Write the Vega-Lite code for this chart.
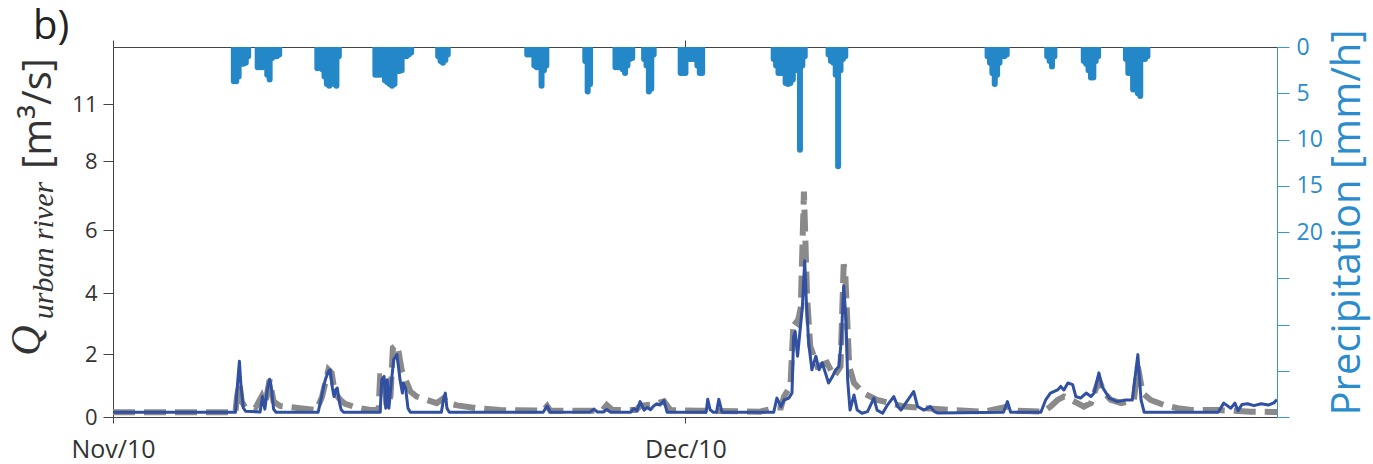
{
  "$schema": "https://vega.github.io/schema/vega-lite/v6.json",
  "width": 1164,
  "height": 370,
  "autosize": "none",
  "padding": {"left": 113, "top": 47, "right": 96, "bottom": 47},
  "background": "white",
  "title": {"text": "b)", "anchor": "start", "frame": "group", "fontSize": 40, "fontWeight": "normal", "font": "Open Sans", "color": "#222", "dx": -80, "dy": 50, "baseline": "alphabetic", "offset": 0},
  "config": {
    "view": {"stroke": null},
    "axis": {"grid": false, "labelFont": "Open Sans", "titleFont": "Open Sans", "titleFontWeight": "normal"}
  },
  "datasets": {
    "obs": [
      {"time": "2010-11-01T00:00", "Q": 0.15},
      {"time": "2010-11-07T10:00", "Q": 0.15},
      {"time": "2010-11-07T12:00", "Q": 0.65},
      {"time": "2010-11-07T15:00", "Q": 1.08},
      {"time": "2010-11-07T18:00", "Q": 0.49},
      {"time": "2010-11-07T22:00", "Q": 0.31},
      {"time": "2010-11-08T11:00", "Q": 0.28},
      {"time": "2010-11-08T19:00", "Q": 0.65},
      {"time": "2010-11-08T23:00", "Q": 0.35},
      {"time": "2010-11-09T05:00", "Q": 1.18},
      {"time": "2010-11-09T10:00", "Q": 0.49},
      {"time": "2010-11-09T18:00", "Q": 0.35},
      {"time": "2010-11-10T19:00", "Q": 0.28},
      {"time": "2010-11-11T16:00", "Q": 0.22},
      {"time": "2010-11-11T23:00", "Q": 0.65},
      {"time": "2010-11-12T03:00", "Q": 1.08},
      {"time": "2010-11-12T07:00", "Q": 1.5},
      {"time": "2010-11-12T11:00", "Q": 1.4},
      {"time": "2010-11-12T15:00", "Q": 0.76},
      {"time": "2010-11-12T22:00", "Q": 0.54},
      {"time": "2010-11-13T04:00", "Q": 0.42},
      {"time": "2010-11-13T17:00", "Q": 0.31},
      {"time": "2010-11-14T12:00", "Q": 0.22},
      {"time": "2010-11-14T22:00", "Q": 0.22},
      {"time": "2010-11-15T00:00", "Q": 1.29},
      {"time": "2010-11-15T05:00", "Q": 1.29},
      {"time": "2010-11-15T08:00", "Q": 0.35},
      {"time": "2010-11-15T13:00", "Q": 0.65},
      {"time": "2010-11-15T16:00", "Q": 2.2},
      {"time": "2010-11-15T21:00", "Q": 2.3},
      {"time": "2010-11-15T23:00", "Q": 2.1},
      {"time": "2010-11-16T03:00", "Q": 1.5},
      {"time": "2010-11-16T08:00", "Q": 1.18},
      {"time": "2010-11-16T14:00", "Q": 0.81},
      {"time": "2010-11-16T22:00", "Q": 0.65},
      {"time": "2010-11-17T11:00", "Q": 0.54},
      {"time": "2010-11-17T23:00", "Q": 0.44},
      {"time": "2010-11-18T08:00", "Q": 0.6},
      {"time": "2010-11-18T12:00", "Q": 0.44},
      {"time": "2010-11-19T01:00", "Q": 0.37},
      {"time": "2010-11-20T02:00", "Q": 0.28},
      {"time": "2010-11-21T07:00", "Q": 0.22},
      {"time": "2010-11-23T13:00", "Q": 0.2},
      {"time": "2010-11-23T18:00", "Q": 0.35},
      {"time": "2010-11-23T22:00", "Q": 0.2},
      {"time": "2010-11-26T15:00", "Q": 0.2},
      {"time": "2010-11-26T21:00", "Q": 0.38},
      {"time": "2010-11-27T04:00", "Q": 0.22},
      {"time": "2010-11-28T10:00", "Q": 0.22},
      {"time": "2010-11-28T15:00", "Q": 0.35},
      {"time": "2010-11-29T08:00", "Q": 0.4},
      {"time": "2010-11-29T21:00", "Q": 0.5},
      {"time": "2010-11-30T05:00", "Q": 0.22},
      {"time": "2010-12-01T19:00", "Q": 0.2},
      {"time": "2010-12-04T22:00", "Q": 0.17},
      {"time": "2010-12-05T19:00", "Q": 0.3},
      {"time": "2010-12-06T00:00", "Q": 0.3},
      {"time": "2010-12-06T04:00", "Q": 0.65},
      {"time": "2010-12-06T12:00", "Q": 0.97},
      {"time": "2010-12-06T16:00", "Q": 3.1},
      {"time": "2010-12-06T21:00", "Q": 3.0},
      {"time": "2010-12-07T01:00", "Q": 3.52},
      {"time": "2010-12-07T05:00", "Q": 7.11},
      {"time": "2010-12-07T09:00", "Q": 3.85},
      {"time": "2010-12-07T13:00", "Q": 2.25},
      {"time": "2010-12-07T22:00", "Q": 1.6},
      {"time": "2010-12-08T10:00", "Q": 1.72},
      {"time": "2010-12-08T19:00", "Q": 1.29},
      {"time": "2010-12-09T03:00", "Q": 1.6},
      {"time": "2010-12-09T07:00", "Q": 4.91},
      {"time": "2010-12-09T09:00", "Q": 4.6},
      {"time": "2010-12-09T14:00", "Q": 1.6},
      {"time": "2010-12-09T20:00", "Q": 1.08},
      {"time": "2010-12-10T08:00", "Q": 0.76},
      {"time": "2010-12-11T01:00", "Q": 0.54},
      {"time": "2010-12-11T18:00", "Q": 0.44},
      {"time": "2010-12-12T11:00", "Q": 0.33},
      {"time": "2010-12-13T12:00", "Q": 0.28},
      {"time": "2010-12-14T22:00", "Q": 0.22},
      {"time": "2010-12-16T16:00", "Q": 0.17},
      {"time": "2010-12-17T21:00", "Q": 0.33},
      {"time": "2010-12-18T10:00", "Q": 0.2},
      {"time": "2010-12-19T19:00", "Q": 0.17},
      {"time": "2010-12-20T03:00", "Q": 0.33},
      {"time": "2010-12-20T12:00", "Q": 0.54},
      {"time": "2010-12-20T20:00", "Q": 0.65},
      {"time": "2010-12-21T05:00", "Q": 0.54},
      {"time": "2010-12-21T13:00", "Q": 0.44},
      {"time": "2010-12-21T21:00", "Q": 0.33},
      {"time": "2010-12-22T06:00", "Q": 0.44},
      {"time": "2010-12-22T16:00", "Q": 1.18},
      {"time": "2010-12-22T23:00", "Q": 0.76},
      {"time": "2010-12-23T07:00", "Q": 0.54},
      {"time": "2010-12-23T20:00", "Q": 0.44},
      {"time": "2010-12-24T12:00", "Q": 0.54},
      {"time": "2010-12-24T17:00", "Q": 1.6},
      {"time": "2010-12-24T23:00", "Q": 0.76},
      {"time": "2010-12-25T09:00", "Q": 0.54},
      {"time": "2010-12-26T02:00", "Q": 0.38},
      {"time": "2010-12-26T19:00", "Q": 0.28},
      {"time": "2010-12-27T12:00", "Q": 0.22},
      {"time": "2010-12-28T22:00", "Q": 0.22},
      {"time": "2010-12-30T15:00", "Q": 0.17},
      {"time": "2011-01-01T00:00", "Q": 0.16}
    ],
    "sim": [
      {"time": "2010-11-01T00:00", "Q": 0.15},
      {"time": "2010-11-07T10:00", "Q": 0.15},
      {"time": "2010-11-07T12:00", "Q": 0.86},
      {"time": "2010-11-07T15:00", "Q": 1.77},
      {"time": "2010-11-07T17:00", "Q": 0.97},
      {"time": "2010-11-07T20:00", "Q": 0.28},
      {"time": "2010-11-07T23:00", "Q": 0.18},
      {"time": "2010-11-08T17:00", "Q": 0.16},
      {"time": "2010-11-08T20:00", "Q": 0.65},
      {"time": "2010-11-08T23:00", "Q": 0.25},
      {"time": "2010-11-09T02:00", "Q": 0.86},
      {"time": "2010-11-09T05:00", "Q": 1.2},
      {"time": "2010-11-09T07:00", "Q": 0.97},
      {"time": "2010-11-09T10:00", "Q": 0.25},
      {"time": "2010-11-09T13:00", "Q": 0.15},
      {"time": "2010-11-11T18:00", "Q": 0.15},
      {"time": "2010-11-11T21:00", "Q": 0.49},
      {"time": "2010-11-12T01:00", "Q": 0.97},
      {"time": "2010-11-12T03:00", "Q": 1.18},
      {"time": "2010-11-12T07:00", "Q": 1.45},
      {"time": "2010-11-12T09:00", "Q": 1.5},
      {"time": "2010-11-12T12:00", "Q": 0.92},
      {"time": "2010-11-12T14:00", "Q": 0.65},
      {"time": "2010-11-12T16:00", "Q": 0.86},
      {"time": "2010-11-12T18:00", "Q": 0.92},
      {"time": "2010-11-12T21:00", "Q": 0.44},
      {"time": "2010-11-12T23:00", "Q": 0.23},
      {"time": "2010-11-13T02:00", "Q": 0.15},
      {"time": "2010-11-15T00:00", "Q": 0.15},
      {"time": "2010-11-15T02:00", "Q": 1.18},
      {"time": "2010-11-15T05:00", "Q": 1.29},
      {"time": "2010-11-15T07:00", "Q": 0.28},
      {"time": "2010-11-15T09:00", "Q": 1.18},
      {"time": "2010-11-15T11:00", "Q": 0.28},
      {"time": "2010-11-15T14:00", "Q": 1.08},
      {"time": "2010-11-15T17:00", "Q": 1.82},
      {"time": "2010-11-15T21:00", "Q": 1.98},
      {"time": "2010-11-15T23:00", "Q": 1.6},
      {"time": "2010-11-16T01:00", "Q": 1.18},
      {"time": "2010-11-16T04:00", "Q": 0.76},
      {"time": "2010-11-16T05:00", "Q": 1.08},
      {"time": "2010-11-16T08:00", "Q": 0.92},
      {"time": "2010-11-16T11:00", "Q": 0.28},
      {"time": "2010-11-16T14:00", "Q": 0.15},
      {"time": "2010-11-18T05:00", "Q": 0.15},
      {"time": "2010-11-18T08:00", "Q": 0.6},
      {"time": "2010-11-18T10:00", "Q": 0.76},
      {"time": "2010-11-18T12:00", "Q": 0.28},
      {"time": "2010-11-18T15:00", "Q": 0.15},
      {"time": "2010-11-23T13:00", "Q": 0.15},
      {"time": "2010-11-23T18:00", "Q": 0.35},
      {"time": "2010-11-23T22:00", "Q": 0.15},
      {"time": "2010-11-26T00:00", "Q": 0.16},
      {"time": "2010-11-26T05:00", "Q": 0.25},
      {"time": "2010-11-26T09:00", "Q": 0.16},
      {"time": "2010-11-26T17:00", "Q": 0.16},
      {"time": "2010-11-26T21:00", "Q": 0.24},
      {"time": "2010-11-27T02:00", "Q": 0.15},
      {"time": "2010-11-28T03:00", "Q": 0.15},
      {"time": "2010-11-28T07:00", "Q": 0.27},
      {"time": "2010-11-28T11:00", "Q": 0.2},
      {"time": "2010-11-28T15:00", "Q": 0.49},
      {"time": "2010-11-28T20:00", "Q": 0.22},
      {"time": "2010-11-29T00:00", "Q": 0.3},
      {"time": "2010-11-29T04:00", "Q": 0.23},
      {"time": "2010-11-29T08:00", "Q": 0.35},
      {"time": "2010-11-29T12:00", "Q": 0.42},
      {"time": "2010-11-29T16:00", "Q": 0.38},
      {"time": "2010-11-29T21:00", "Q": 0.52},
      {"time": "2010-11-30T01:00", "Q": 0.15},
      {"time": "2010-12-02T02:00", "Q": 0.15},
      {"time": "2010-12-02T04:00", "Q": 0.56},
      {"time": "2010-12-02T07:00", "Q": 0.23},
      {"time": "2010-12-02T11:00", "Q": 0.15},
      {"time": "2010-12-02T15:00", "Q": 0.15},
      {"time": "2010-12-02T18:00", "Q": 0.56},
      {"time": "2010-12-02T22:00", "Q": 0.15},
      {"time": "2010-12-05T15:00", "Q": 0.15},
      {"time": "2010-12-05T19:00", "Q": 0.6},
      {"time": "2010-12-06T00:00", "Q": 0.33},
      {"time": "2010-12-06T04:00", "Q": 0.54},
      {"time": "2010-12-06T10:00", "Q": 0.6},
      {"time": "2010-12-06T14:00", "Q": 0.76},
      {"time": "2010-12-06T16:00", "Q": 2.57},
      {"time": "2010-12-06T18:00", "Q": 2.73},
      {"time": "2010-12-06T21:00", "Q": 1.93},
      {"time": "2010-12-07T00:00", "Q": 2.73},
      {"time": "2010-12-07T03:00", "Q": 3.52},
      {"time": "2010-12-07T06:00", "Q": 5.02},
      {"time": "2010-12-07T08:00", "Q": 3.74},
      {"time": "2010-12-07T11:00", "Q": 2.36},
      {"time": "2010-12-07T15:00", "Q": 1.5},
      {"time": "2010-12-07T20:00", "Q": 1.93},
      {"time": "2010-12-08T00:00", "Q": 1.5},
      {"time": "2010-12-08T04:00", "Q": 1.72},
      {"time": "2010-12-08T08:00", "Q": 1.4},
      {"time": "2010-12-08T12:00", "Q": 1.08},
      {"time": "2010-12-08T17:00", "Q": 1.29},
      {"time": "2010-12-08T21:00", "Q": 1.5},
      {"time": "2010-12-09T01:00", "Q": 1.6},
      {"time": "2010-12-09T04:00", "Q": 2.46},
      {"time": "2010-12-09T07:00", "Q": 4.22},
      {"time": "2010-12-09T10:00", "Q": 3.1},
      {"time": "2010-12-09T12:00", "Q": 1.18},
      {"time": "2010-12-09T15:00", "Q": 0.22},
      {"time": "2010-12-09T20:00", "Q": 0.7},
      {"time": "2010-12-10T00:00", "Q": 0.22},
      {"time": "2010-12-10T06:00", "Q": 0.12},
      {"time": "2010-12-10T13:00", "Q": 0.17},
      {"time": "2010-12-10T21:00", "Q": 0.6},
      {"time": "2010-12-11T01:00", "Q": 0.22},
      {"time": "2010-12-11T08:00", "Q": 0.12},
      {"time": "2010-12-11T14:00", "Q": 0.38},
      {"time": "2010-12-11T22:00", "Q": 0.65},
      {"time": "2010-12-12T03:00", "Q": 0.33},
      {"time": "2010-12-12T07:00", "Q": 0.22},
      {"time": "2010-12-12T13:00", "Q": 0.44},
      {"time": "2010-12-12T23:00", "Q": 0.81},
      {"time": "2010-12-13T04:00", "Q": 0.33},
      {"time": "2010-12-13T12:00", "Q": 0.22},
      {"time": "2010-12-13T20:00", "Q": 0.33},
      {"time": "2010-12-14T01:00", "Q": 0.17},
      {"time": "2010-12-14T05:00", "Q": 0.13},
      {"time": "2010-12-17T16:00", "Q": 0.15},
      {"time": "2010-12-17T21:00", "Q": 0.49},
      {"time": "2010-12-18T01:00", "Q": 0.15},
      {"time": "2010-12-19T15:00", "Q": 0.15},
      {"time": "2010-12-19T21:00", "Q": 0.54},
      {"time": "2010-12-20T03:00", "Q": 0.76},
      {"time": "2010-12-20T12:00", "Q": 0.86},
      {"time": "2010-12-20T16:00", "Q": 0.97},
      {"time": "2010-12-20T20:00", "Q": 0.86},
      {"time": "2010-12-21T01:00", "Q": 1.08},
      {"time": "2010-12-21T07:00", "Q": 1.03},
      {"time": "2010-12-21T11:00", "Q": 0.65},
      {"time": "2010-12-21T17:00", "Q": 0.6},
      {"time": "2010-12-22T00:00", "Q": 0.76},
      {"time": "2010-12-22T06:00", "Q": 0.65},
      {"time": "2010-12-22T10:00", "Q": 0.76},
      {"time": "2010-12-22T16:00", "Q": 1.4},
      {"time": "2010-12-22T20:00", "Q": 0.97},
      {"time": "2010-12-23T05:00", "Q": 0.6},
      {"time": "2010-12-23T15:00", "Q": 0.49},
      {"time": "2010-12-24T02:00", "Q": 0.54},
      {"time": "2010-12-24T10:00", "Q": 0.54},
      {"time": "2010-12-24T17:00", "Q": 1.98},
      {"time": "2010-12-24T21:00", "Q": 0.54},
      {"time": "2010-12-25T01:00", "Q": 0.15},
      {"time": "2010-12-28T22:00", "Q": 0.15},
      {"time": "2010-12-29T05:00", "Q": 0.44},
      {"time": "2010-12-29T14:00", "Q": 0.28},
      {"time": "2010-12-29T19:00", "Q": 0.44},
      {"time": "2010-12-29T23:00", "Q": 0.2},
      {"time": "2010-12-30T04:00", "Q": 0.4},
      {"time": "2010-12-30T11:00", "Q": 0.42},
      {"time": "2010-12-30T19:00", "Q": 0.36},
      {"time": "2010-12-31T04:00", "Q": 0.42},
      {"time": "2010-12-31T13:00", "Q": 0.38},
      {"time": "2010-12-31T20:00", "Q": 0.45},
      {"time": "2011-01-01T00:00", "Q": 0.55}
    ],
    "precip": [
      {"time": "2010-11-07T08:00", "P": 3.7},
      {"time": "2010-11-07T11:00", "P": 3.7},
      {"time": "2010-11-07T14:00", "P": 3.2},
      {"time": "2010-11-07T17:00", "P": 1.8},
      {"time": "2010-11-07T20:00", "P": 1.8},
      {"time": "2010-11-07T23:00", "P": 1.7},
      {"time": "2010-11-08T02:00", "P": 1.0},
      {"time": "2010-11-08T14:00", "P": 2.2},
      {"time": "2010-11-08T17:00", "P": 2.2},
      {"time": "2010-11-08T20:00", "P": 2.2},
      {"time": "2010-11-08T23:00", "P": 2.0},
      {"time": "2010-11-09T02:00", "P": 3.0},
      {"time": "2010-11-09T05:00", "P": 3.5},
      {"time": "2010-11-09T08:00", "P": 1.2},
      {"time": "2010-11-09T11:00", "P": 1.0},
      {"time": "2010-11-09T14:00", "P": 1.0},
      {"time": "2010-11-09T17:00", "P": 0.8},
      {"time": "2010-11-11T17:00", "P": 2.3},
      {"time": "2010-11-11T20:00", "P": 2.2},
      {"time": "2010-11-11T23:00", "P": 2.4},
      {"time": "2010-11-12T02:00", "P": 3.2},
      {"time": "2010-11-12T05:00", "P": 4.0},
      {"time": "2010-11-12T08:00", "P": 4.2},
      {"time": "2010-11-12T11:00", "P": 3.8},
      {"time": "2010-11-12T14:00", "P": 4.0},
      {"time": "2010-11-12T17:00", "P": 4.2},
      {"time": "2010-11-12T20:00", "P": 1.0},
      {"time": "2010-11-14T18:00", "P": 3.0},
      {"time": "2010-11-14T21:00", "P": 3.0},
      {"time": "2010-11-15T00:00", "P": 3.0},
      {"time": "2010-11-15T03:00", "P": 2.8},
      {"time": "2010-11-15T06:00", "P": 3.6},
      {"time": "2010-11-15T09:00", "P": 3.8},
      {"time": "2010-11-15T12:00", "P": 4.0},
      {"time": "2010-11-15T15:00", "P": 4.2},
      {"time": "2010-11-15T18:00", "P": 4.0},
      {"time": "2010-11-15T21:00", "P": 2.6},
      {"time": "2010-11-16T00:00", "P": 2.6},
      {"time": "2010-11-16T03:00", "P": 2.5},
      {"time": "2010-11-16T06:00", "P": 1.0},
      {"time": "2010-11-16T09:00", "P": 1.0},
      {"time": "2010-11-16T12:00", "P": 0.8},
      {"time": "2010-11-16T15:00", "P": 0.6},
      {"time": "2010-11-18T01:00", "P": 1.0},
      {"time": "2010-11-18T04:00", "P": 1.5},
      {"time": "2010-11-18T07:00", "P": 1.7},
      {"time": "2010-11-18T10:00", "P": 1.4},
      {"time": "2010-11-18T13:00", "P": 0.8},
      {"time": "2010-11-22T17:00", "P": 0.8},
      {"time": "2010-11-22T20:00", "P": 0.8},
      {"time": "2010-11-22T23:00", "P": 0.8},
      {"time": "2010-11-23T02:00", "P": 2.0},
      {"time": "2010-11-23T05:00", "P": 2.2},
      {"time": "2010-11-23T08:00", "P": 2.2},
      {"time": "2010-11-23T11:00", "P": 4.2},
      {"time": "2010-11-23T14:00", "P": 2.5},
      {"time": "2010-11-23T17:00", "P": 2.0},
      {"time": "2010-11-25T18:00", "P": 1.5},
      {"time": "2010-11-25T21:00", "P": 4.8},
      {"time": "2010-11-26T00:00", "P": 4.0},
      {"time": "2010-11-27T08:00", "P": 2.2},
      {"time": "2010-11-27T11:00", "P": 2.2},
      {"time": "2010-11-27T14:00", "P": 2.2},
      {"time": "2010-11-27T17:00", "P": 2.4},
      {"time": "2010-11-27T20:00", "P": 2.8},
      {"time": "2010-11-27T23:00", "P": 2.0},
      {"time": "2010-11-28T02:00", "P": 1.3},
      {"time": "2010-11-28T05:00", "P": 1.2},
      {"time": "2010-11-28T20:00", "P": 1.3},
      {"time": "2010-11-28T23:00", "P": 2.0},
      {"time": "2010-11-29T02:00", "P": 4.8},
      {"time": "2010-11-29T05:00", "P": 4.5},
      {"time": "2010-11-29T08:00", "P": 0.8},
      {"time": "2010-11-30T18:00", "P": 2.8},
      {"time": "2010-11-30T21:00", "P": 2.8},
      {"time": "2010-12-01T00:00", "P": 2.8},
      {"time": "2010-12-01T03:00", "P": 1.3},
      {"time": "2010-12-01T06:00", "P": 1.3},
      {"time": "2010-12-01T09:00", "P": 1.3},
      {"time": "2010-12-01T12:00", "P": 1.3},
      {"time": "2010-12-01T15:00", "P": 2.0},
      {"time": "2010-12-01T18:00", "P": 2.8},
      {"time": "2010-12-01T21:00", "P": 2.8},
      {"time": "2010-12-05T15:00", "P": 1.3},
      {"time": "2010-12-05T18:00", "P": 2.0},
      {"time": "2010-12-05T21:00", "P": 2.8},
      {"time": "2010-12-06T00:00", "P": 2.8},
      {"time": "2010-12-06T03:00", "P": 2.8},
      {"time": "2010-12-06T06:00", "P": 3.9},
      {"time": "2010-12-06T09:00", "P": 4.0},
      {"time": "2010-12-06T12:00", "P": 3.9},
      {"time": "2010-12-06T15:00", "P": 3.5},
      {"time": "2010-12-06T18:00", "P": 2.5},
      {"time": "2010-12-06T21:00", "P": 2.0},
      {"time": "2010-12-07T00:00", "P": 11.1},
      {"time": "2010-12-07T03:00", "P": 2.0},
      {"time": "2010-12-07T06:00", "P": 1.0},
      {"time": "2010-12-08T12:00", "P": 0.8},
      {"time": "2010-12-08T15:00", "P": 1.5},
      {"time": "2010-12-08T18:00", "P": 1.7},
      {"time": "2010-12-08T21:00", "P": 3.0},
      {"time": "2010-12-09T00:00", "P": 12.9},
      {"time": "2010-12-09T03:00", "P": 2.5},
      {"time": "2010-12-09T06:00", "P": 1.3},
      {"time": "2010-12-09T09:00", "P": 1.0},
      {"time": "2010-12-16T20:00", "P": 1.0},
      {"time": "2010-12-16T23:00", "P": 1.7},
      {"time": "2010-12-17T02:00", "P": 2.8},
      {"time": "2010-12-17T05:00", "P": 4.0},
      {"time": "2010-12-17T08:00", "P": 3.0},
      {"time": "2010-12-17T11:00", "P": 1.7},
      {"time": "2010-12-17T14:00", "P": 1.0},
      {"time": "2010-12-17T17:00", "P": 1.0},
      {"time": "2010-12-17T20:00", "P": 0.8},
      {"time": "2010-12-19T23:00", "P": 1.0},
      {"time": "2010-12-20T02:00", "P": 1.5},
      {"time": "2010-12-20T05:00", "P": 2.1},
      {"time": "2010-12-20T08:00", "P": 1.0},
      {"time": "2010-12-21T21:00", "P": 1.5},
      {"time": "2010-12-22T00:00", "P": 1.8},
      {"time": "2010-12-22T03:00", "P": 2.5},
      {"time": "2010-12-22T06:00", "P": 3.3},
      {"time": "2010-12-22T09:00", "P": 3.3},
      {"time": "2010-12-22T12:00", "P": 1.5},
      {"time": "2010-12-22T15:00", "P": 1.0},
      {"time": "2010-12-24T02:00", "P": 1.3},
      {"time": "2010-12-24T05:00", "P": 2.8},
      {"time": "2010-12-24T08:00", "P": 2.8},
      {"time": "2010-12-24T11:00", "P": 4.6},
      {"time": "2010-12-24T14:00", "P": 4.6},
      {"time": "2010-12-24T17:00", "P": 5.0},
      {"time": "2010-12-24T20:00", "P": 5.3},
      {"time": "2010-12-24T23:00", "P": 1.3},
      {"time": "2010-12-25T02:00", "P": 1.3},
      {"time": "2010-12-25T05:00", "P": 1.0}
    ]
  },
  "layer": [
    {
      "data": {"name": "obs"},
      "mark": {"type": "line", "color": "#8a8a8a", "strokeWidth": 6, "strokeDash": [22, 9], "clip": true},
      "encoding": {
        "x": {
          "field": "time", "type": "temporal",
          "scale": {"domain": [{"year": 2010, "month": 11, "date": 1}, {"year": 2011, "month": 1, "date": 1}], "nice": false},
          "axis": {
            "orient": "bottom",
            "values": [{"year": 2010, "month": 11, "date": 1}, {"year": 2010, "month": 12, "date": 1}],
            "format": "%b/%y",
            "title": null,
            "labelFontSize": 25,
            "labelColor": "#333",
            "labelPadding": 14,
            "tickSize": 6,
            "tickColor": "#444",
            "domainColor": "#444",
            "labelFlush": false
          }
        },
        "y": {
          "field": "Q", "type": "quantitative",
          "scale": {"domain": [0, 2, 4, 6, 8, 11, 14], "range": [370, 307, 246, 183, 114, 57, 0], "zero": false, "nice": false},
          "axis": {
            "orient": "left",
            "values": [0, 2, 4, 6, 8, 11],
            "labelFontSize": 22,
            "labelColor": "#333",
            "labelPadding": 6,
            "tickSize": 10,
            "tickColor": "#444",
            "domainColor": "#444",
            "title": "[m³/s]",
            "titleFontSize": 40,
            "titleColor": "#333",
            "titleAngle": 270,
            "titleAlign": "center",
            "titleBaseline": "alphabetic",
            "titleX": -63,
            "titleY": 66
          }
        }
      }
    },
    {
      "data": {"name": "sim"},
      "mark": {"type": "line", "color": "#3150a1", "strokeWidth": 3, "strokeJoin": "round", "clip": true},
      "encoding": {
        "x": {
          "field": "time", "type": "temporal",
          "axis": {
            "orient": "top",
            "values": [{"year": 2010, "month": 11, "date": 1}, {"year": 2010, "month": 12, "date": 1}],
            "labels": false,
            "tickSize": 7,
            "tickColor": "#444",
            "domainColor": "#444",
            "title": "urban river",
            "titleFont": "Liberation Serif",
            "titleFontStyle": "italic",
            "titleFontSize": 30,
            "titleColor": "#333",
            "titleAngle": 270,
            "titleAlign": "center",
            "titleBaseline": "alphabetic",
            "titleX": -61,
            "titleY": 203
          }
        },
        "y": {
          "field": "Q", "type": "quantitative",
          "scale": {"domain": [0, 2, 4, 6, 8, 11, 14], "range": [370, 307, 246, 183, 114, 57, 0], "zero": false, "nice": false},
          "axis": {
            "orient": "left",
            "labels": false,
            "ticks": false,
            "domain": false,
            "title": "Q",
            "titleFont": "Liberation Serif",
            "titleFontStyle": "italic",
            "titleFontSize": 42,
            "titleColor": "#333",
            "titleAngle": 270,
            "titleAlign": "center",
            "titleBaseline": "alphabetic",
            "titleX": -74,
            "titleY": 293
          }
        }
      }
    },
    {
      "data": {"name": "precip"},
      "mark": {"type": "rule", "color": "#2488c8", "strokeWidth": 6, "strokeCap": "round", "clip": true},
      "encoding": {
        "x": {"field": "time", "type": "temporal", "axis": null},
        "y": {
          "field": "P", "type": "quantitative",
          "scale": {"domain": [0, 40], "reverse": true, "zero": false, "nice": false},
          "axis": {
            "orient": "right",
            "values": [0, 5, 10, 15, 20, 25, 30, 35, 40],
            "labelExpr": "datum.value <= 20 ? datum.label : ''",
            "labelFontSize": 23,
            "labelColor": "#2a8ccc",
            "labelPadding": 7,
            "tickSize": 12,
            "tickColor": "#3a95d3",
            "domainColor": "#3a95d3",
            "title": "Precipitation [mm/h]",
            "titleFontSize": 40,
            "titleColor": "#2a8ccc",
            "titleAngle": 270,
            "titleAlign": "center",
            "titleBaseline": "alphabetic",
            "titleX": 82,
            "titleY": 175
          }
        },
        "y2": {"datum": 0}
      }
    }
  ],
  "resolve": {"scale": {"y": "independent"}, "axis": {"x": "independent", "y": "independent"}}
}
